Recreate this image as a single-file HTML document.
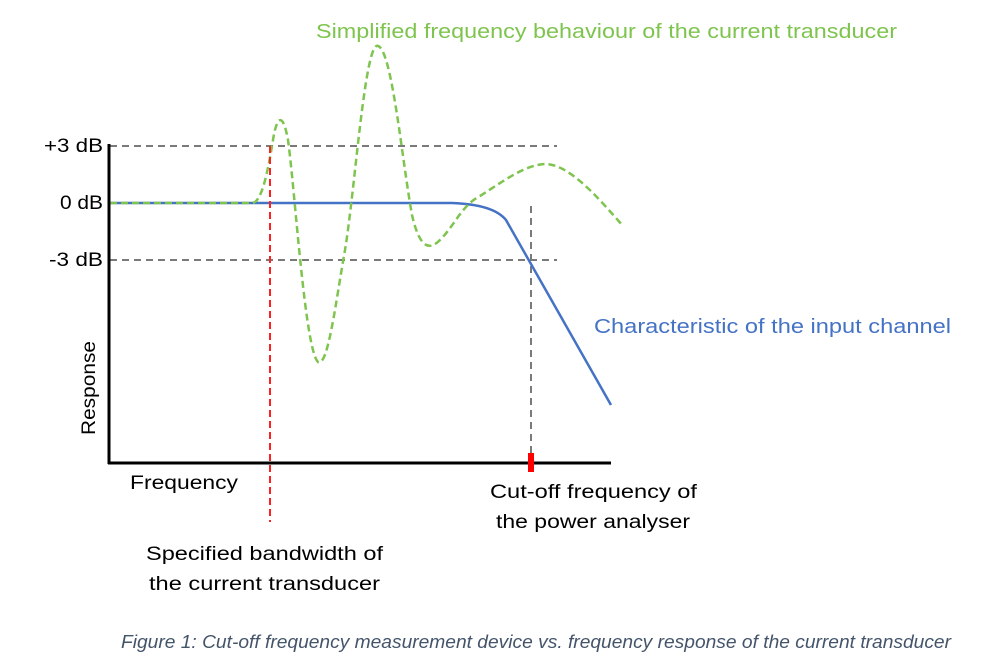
<!DOCTYPE html>
<html><head><meta charset="utf-8"><style>
html,body{margin:0;padding:0;background:#fff;}
svg{display:block;}
text{font-family:"Liberation Sans",sans-serif;}
</style></head><body>
<svg width="986" height="672" viewBox="0 0 986 672" xmlns="http://www.w3.org/2000/svg">
<g stroke="#7a7a7a" stroke-width="2" stroke-dasharray="7,5" fill="none">
<line x1="110" y1="146" x2="557" y2="146"/>
<line x1="110" y1="260" x2="557" y2="260"/>
<line x1="531" y1="206" x2="531" y2="460"/>
</g>
<path d="M110 203 L452 203 C480 204 498 210 506 220 L611 405" stroke="#4472c4" stroke-width="2.5" fill="none"/>
<path d="M110 203 L252 203 C262 203 268 170 273 140 C277 115 283 112 288 140 C295 190 305 350 318 362 C328 368 336 300 345 250 C355 190 365 40 378 46 C392 50 402 160 412 215 C420 250 430 250 440 240 C455 225 462 205 480 196 C505 180 525 165 545 164 C570 164 600 200 623 226" stroke="#7ec44e" stroke-width="2.5" fill="none" stroke-dasharray="7,4"/>
<line x1="270" y1="146" x2="270" y2="522" stroke="#ff2020" stroke-width="2" stroke-dasharray="7,4"/>
<line x1="109" y1="144" x2="109" y2="464" stroke="#000" stroke-width="3"/>
<line x1="108" y1="463" x2="611" y2="463" stroke="#000" stroke-width="3"/>
<rect x="528" y="453" width="6" height="19" fill="#ff0000"/>
<g font-size="19" fill="#000" lengthAdjust="spacingAndGlyphs">
<text x="44" y="152" textLength="59" lengthAdjust="spacingAndGlyphs">+3 dB</text>
<text x="60" y="209" textLength="43" lengthAdjust="spacingAndGlyphs">0 dB</text>
<text x="49" y="266" textLength="54" lengthAdjust="spacingAndGlyphs">-3 dB</text>
<text x="130" y="489" textLength="108" lengthAdjust="spacingAndGlyphs">Frequency</text>
<text transform="translate(95,435) rotate(-90)" textLength="94" lengthAdjust="spacingAndGlyphs">Response</text>
<text x="490" y="498" textLength="207" lengthAdjust="spacingAndGlyphs">Cut-off frequency of</text>
<text x="496" y="528" textLength="194" lengthAdjust="spacingAndGlyphs">the power analyser</text>
<text x="146" y="560" textLength="237" lengthAdjust="spacingAndGlyphs">Specified bandwidth of</text>
<text x="149" y="590" textLength="231" lengthAdjust="spacingAndGlyphs">the current transducer</text>
</g>
<text x="316" y="38" font-size="20" fill="#7ec44e" textLength="581" lengthAdjust="spacingAndGlyphs">Simplified frequency behaviour of the current transducer</text>
<text x="594" y="333" font-size="20" fill="#4472c4" textLength="357" lengthAdjust="spacingAndGlyphs">Characteristic of the input channel</text>
<text x="121" y="648" font-size="18" font-style="italic" fill="#44546a" textLength="830" lengthAdjust="spacingAndGlyphs">Figure 1: Cut-off frequency measurement device vs. frequency response of the current transducer</text>
</svg>
</body></html>
